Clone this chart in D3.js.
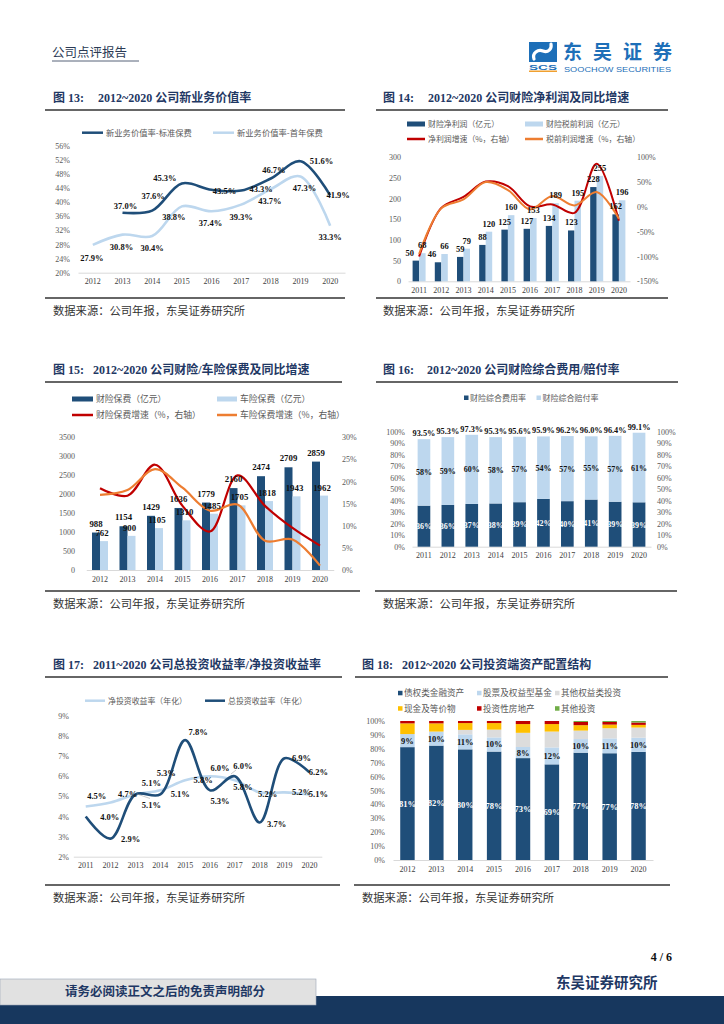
<!DOCTYPE html>
<html>
<head>
<meta charset="utf-8">
<script src="https://cdn.jsdelivr.net/npm/d3@7"></script>
<style>
  body { margin: 0; background: #fff; }
  svg { display: block; }
</style>
</head>
<body>
<svg id="page" width="724" height="1024"></svg>
<script>
// //////// DATA

// 图13 新业务价值率
const years13 = ["2012", "2013", "2014", "2015", "2016", "2017", "2018", "2019", "2020"];
const nbvStandard = [null, 37.0, 37.6, 45.3, 43.5, 43.3, 46.7, 51.6, 41.9];
const nbvFirstYear = [27.9, 30.8, 30.4, 38.8, 37.4, 39.3, 43.7, 47.3, 33.3];

// 图14 财险净利润 / 税前利润
const years14 = ["2011", "2012", "2013", "2014", "2015", "2016", "2017", "2018", "2019", "2020"];
const netProfit = [50, 46, 59, 88, 125, 127, 134, 123, 228, 162];
const pretaxProfit = [68, 66, 79, 120, 160, 153, 189, 195, 255, 196];
const netProfitGrowth = [-100, -2, 20, 51, 42, 1, 5, -12, 87, -28];
const pretaxGrowth = [-95, -3, 15, 50, 34, -5, 22, 3, 30, -24];

// 图15 财险 / 车险保费
const years15 = ["2012", "2013", "2014", "2015", "2016", "2017", "2018", "2019", "2020"];
const pcPremium = [988, 1154, 1429, 1636, 1779, 2160, 2474, 2709, 2859];
const autoPremium = [762, 900, 1105, 1310, 1485, 1705, 1818, 1943, 1962];
const pcPremiumGrowth = [18.5, 16.8, 23.8, 14.5, 8.7, 21.4, 14.5, 9.5, 5.5];
const autoPremiumGrowth = [17.0, 18.1, 22.8, 18.6, 13.4, 14.8, 6.6, 6.9, 1.0];

// 图16 综合费用率 / 赔付率
const years16 = ["2011", "2012", "2013", "2014", "2015", "2016", "2017", "2018", "2019", "2020"];
const expenseRatio = [35.7, 36.3, 37.2, 37.6, 38.7, 41.6, 39.6, 41.0, 39.1, 38.6];
const lossRatio = [57.8, 59.0, 60.1, 57.7, 56.9, 54.3, 56.6, 55.0, 57.3, 60.5];

// 图17 投资收益率
const years17 = ["2011", "2012", "2013", "2014", "2015", "2016", "2017", "2018", "2019", "2020"];
const netYield = [4.5, 4.7, 5.1, 5.3, 5.8, 6.0, 5.8, 5.2, 5.2, 5.1];
const totalYield = [4.0, 2.9, 5.1, 5.1, 7.8, 5.3, 6.0, 3.7, 6.9, 6.2];

// 图18 投资资产配置
const years18 = ["2012", "2013", "2014", "2015", "2016", "2017", "2018", "2019", "2020"];
const debtAssets = [81.2, 82.3, 79.6, 78.0, 73.3, 68.8, 77.2, 76.8, 77.8];
const equityFunds = [9.4, 10.1, 10.8, 10.2, 8.0, 12.2, 9.8, 10.7, 10.2];
const otherEquity = [0, 0, 3.2, 5.6, 10.2, 11.4, 6.1, 7.3, 7.3];
const cashAssets = [7.7, 5.9, 4.9, 4.7, 6.3, 5.4, 3.9, 2.6, 1.9];
const propertyAssets = [1.7, 1.7, 1.5, 1.5, 2.2, 2.2, 2.3, 1.9, 1.7];
const otherInvest = [0, 0, 0, 0, 0, 0, 0.7, 0.7, 1.1];

// //////// STYLE

const NAVY = "#1f4e79";
const LIGHT = "#bdd7ee";
const RED = "#c00000";
const ORANGE = "#ed7d31";
const GREY = "#dcdcdc";
const YELLOW = "#ffc000";
const GREEN = "#70ad47";
const TITLE_C = "#1f3864";
const TICK_C = "#595959";
const SERIF = "'Liberation Serif','Times New Roman',serif";
const CJK = "'Noto Sans CJK SC','Noto Sans',sans-serif";
const MIXED = "'Liberation Serif','Noto Sans CJK SC',serif";

const svg = d3.select("#page");

// //////// HELPERS

function drawTitle(num, text, x, y, gap, rx1, rx2) {
  svg.append("text").attr("x", x).attr("y", y)
    .attr("font-family", MIXED).attr("font-weight", "bold").attr("font-size", 12)
    .attr("fill", TITLE_C).text(num);
  svg.append("text").attr("x", x + gap).attr("y", y)
    .attr("font-family", MIXED).attr("font-weight", "bold").attr("font-size", 12)
    .attr("fill", TITLE_C).text(text);
  svg.append("line").attr("x1", rx1).attr("x2", rx2)
    .attr("y1", y + 8).attr("y2", y + 8)
    .attr("stroke", "#333").attr("stroke-width", 1.3);
}

function drawSource(x, y, rx1, rx2) {
  svg.append("line").attr("x1", rx1).attr("x2", rx2)
    .attr("y1", y - 13).attr("y2", y - 13)
    .attr("stroke", "#333").attr("stroke-width", 1.3);
  svg.append("text").attr("x", x).attr("y", y + 4)
    .attr("font-family", CJK).attr("font-size", 11.3).attr("fill", "#333")
    .text("数据来源：公司年报，东吴证券研究所");
}

// items: {x, y, type, color, label, w}
function drawLegend(items, fontSize) {
  items.forEach((it) => {
    const w = it.w || 20;
    if (it.type === "bar") {
      svg.append("rect").attr("x", it.x).attr("y", it.y - 2.5)
        .attr("width", w).attr("height", 5).attr("fill", it.color);
    } else if (it.type === "square") {
      svg.append("rect").attr("x", it.x).attr("y", it.y - 2.5)
        .attr("width", 4.5).attr("height", 4.5).attr("fill", it.color);
    } else {
      svg.append("line").attr("x1", it.x).attr("x2", it.x + w)
        .attr("y1", it.y).attr("y2", it.y)
        .attr("stroke", it.color).attr("stroke-width", 2.5);
    }
    const tx = it.type === "square" ? it.x + 6 : it.x + w + 3;
    svg.append("text").attr("x", tx).attr("y", it.y).attr("dy", "0.36em")
      .attr("font-family", CJK).attr("font-size", fontSize || 8.3)
      .attr("fill", TICK_C).text(it.label);
  });
}

function drawYAxis(scale, ticks, fmt, x, side) {
  const axis = (side === "right" ? d3.axisRight(scale) : d3.axisLeft(scale))
    .tickValues(ticks).tickSize(0).tickPadding(3).tickFormat(fmt);
  const g = svg.append("g").attr("transform", `translate(${x},0)`).call(axis);
  g.select(".domain").remove();
  g.selectAll("text").attr("font-family", SERIF).attr("font-size", 8).attr("fill", TICK_C);
}

function drawXAxis(scale, y) {
  const g = svg.append("g").attr("transform", `translate(0,${y})`)
    .call(d3.axisBottom(scale).tickSize(0).tickSizeOuter(0).tickPadding(6));
  g.select(".domain").attr("stroke", "#d9d9d9");
  g.selectAll("text").attr("font-family", SERIF).attr("font-size", 8).attr("fill", "#404040");
}

function dataLabel(x, y, text, color, size) {
  svg.append("text").attr("x", x).attr("y", y)
    .attr("text-anchor", "middle")
    .attr("font-family", SERIF).attr("font-weight", "bold")
    .attr("font-size", size || 8.5).attr("fill", color || "#111")
    .text(text);
}

const pct1 = (v) => v.toFixed(1) + "%";

// //////// HEADER / FOOTER

function renderHeader() {
  svg.append("text").attr("x", 52).attr("y", 57)
    .attr("font-family", CJK).attr("font-size", 12.5).attr("fill", "#2b3a55")
    .text("公司点评报告");
  svg.append("line").attr("x1", 52).attr("x2", 139).attr("y1", 61).attr("y2", 61)
    .attr("stroke", "#2b3a55").attr("stroke-width", 0.8);

  // logo
  const logo = svg.append("g");
  logo.append("rect").attr("x", 529).attr("y", 42).attr("width", 28).attr("height", 20).attr("fill", "#1d6fb8");
  logo.append("path")
    .attr("d", "M534,59 C532,53 538,49 543,51 C548,53 552,49 551,44")
    .attr("fill", "none").attr("stroke", "#fff").attr("stroke-width", 3.2).attr("stroke-linecap", "round");
  logo.append("text").attr("x", 529).attr("y", 69.5)
    .attr("font-family", "'Liberation Sans',sans-serif").attr("font-weight", "bold")
    .attr("font-size", 7).attr("fill", "#1d6fb8")
    .attr("textLength", 28).attr("lengthAdjust", "spacingAndGlyphs").text("SCS");
  logo.append("rect").attr("x", 529).attr("y", 70.5).attr("width", 28).attr("height", 1.5).attr("fill", "#f0a030");
  logo.append("text").attr("x", 563).attr("y", 59)
    .attr("font-family", CJK).attr("font-weight", "bold").attr("font-size", 19)
    .attr("fill", "#1d6fb8").attr("textLength", 109).attr("lengthAdjust", "spacing")
    .text("东吴证券");
  logo.append("text").attr("x", 564).attr("y", 72)
    .attr("font-family", "'Liberation Sans Narrow','Liberation Sans',sans-serif")
    .attr("font-size", 8).attr("fill", "#1d6fb8")
    .attr("textLength", 107).attr("lengthAdjust", "spacingAndGlyphs")
    .text("SOOCHOW SECURITIES");
}

function renderFooter() {
  svg.append("text").attr("x", 672).attr("y", 961).attr("text-anchor", "end")
    .attr("font-family", SERIF).attr("font-weight", "bold").attr("font-size", 12)
    .attr("fill", "#111").text("4 / 6");
  svg.append("rect").attr("x", 0).attr("y", 996).attr("width", 724).attr("height", 28).attr("fill", "#17375e");
  svg.append("rect").attr("x", 0).attr("y", 979).attr("width", 316).attr("height", 26)
    .attr("fill", "#e1e1e1").attr("stroke", "#9aa5b5").attr("stroke-width", 0.6);
  svg.append("text").attr("x", 65).attr("y", 996)
    .attr("font-family", CJK).attr("font-weight", "bold").attr("font-size", 12.5)
    .attr("fill", "#1f3864").text("请务必阅读正文之后的免责声明部分");
  svg.append("text").attr("x", 556).attr("y", 988)
    .attr("font-family", CJK).attr("font-weight", "bold").attr("font-size", 14.5)
    .attr("fill", "#1f3864").text("东吴证券研究所");
}

// //////// CHART 13

function renderChart13() {
  drawTitle("图 13:", "2012~2020 公司新业务价值率", 53, 102, 45, 45, 345);
  drawLegend([
    { x: 82, y: 132.7, type: "line", color: NAVY, label: "新业务价值率-标准保费", w: 21 },
    { x: 213, y: 132.7, type: "line", color: LIGHT, label: "新业务价值率-首年保费", w: 21 },
  ]);

  const x = d3.scaleBand().domain(years13).range([78, 345]);
  const y = d3.scaleLinear().domain([20, 56]).range([272.7, 145.7]);
  drawYAxis(y, d3.range(20, 57, 4), (d) => d + "%", 73);
  drawXAxis(x, 272.7);

  const cx = (i) => x(years13[i]) + x.bandwidth() / 2;
  const line = d3.line()
    .defined((d) => d != null)
    .x((d, i) => cx(i))
    .y((d) => y(d))
    .curve(d3.curveCatmullRom);

  svg.append("path").attr("d", line(nbvFirstYear))
    .attr("fill", "none").attr("stroke", LIGHT).attr("stroke-width", 2.6);
  svg.append("path").attr("d", line(nbvStandard))
    .attr("fill", "none").attr("stroke", NAVY).attr("stroke-width", 2.6);

  const stdOff = [null, [3, -7], [1, -15], [-17, -5], [13, 1], [20, -2], [3, -9], [21, 0], [8, 0]];
  const firstOff = [[-1, 13], [-1, 12], [0, 12], [-8, 11], [-1, 12], [0, 12], [-1, 11.5], [4, 12], [0, 11.5]];

  nbvStandard.forEach((v, i) => {
    if (v == null) return;
    dataLabel(cx(i) + stdOff[i][0], y(v) + stdOff[i][1] + 3, pct1(v));
  });
  nbvFirstYear.forEach((v, i) => {
    dataLabel(cx(i) + firstOff[i][0], y(v) + firstOff[i][1] + 3, pct1(v));
  });

  drawSource(53, 311, 45, 345);
}

// //////// CHART 14

function renderChart14() {
  drawTitle("图 14:", "2012~2020 公司财险净利润及同比增速", 383, 102, 45, 376, 668);
  drawLegend([
    { x: 407, y: 124, type: "bar", color: NAVY, label: "财险净利润（亿元）", w: 18 },
    { x: 525, y: 124, type: "bar", color: LIGHT, label: "财险税前利润（亿元）", w: 18 },
    { x: 407, y: 139, type: "line", color: RED, label: "净利润增速（%，右轴）", w: 18 },
    { x: 525, y: 139, type: "line", color: ORANGE, label: "税前利润增速（%，右轴）", w: 18 },
  ], 7.9);

  const x = d3.scaleBand().domain(years14).range([408, 630]);
  const yL = d3.scaleLinear().domain([0, 300]).range([281.3, 157.3]);
  const yR = d3.scaleLinear().domain([-150, 100]).range([281.3, 157.3]);
  drawYAxis(yL, d3.range(0, 301, 50), (d) => d, 404);
  drawYAxis(yR, d3.range(-150, 101, 50), (d) => d + "%", 634, "right");
  drawXAxis(x, 281.3);

  const w = 6.5;
  const cx = (i) => x(years14[i]) + x.bandwidth() / 2;

  svg.append("g").selectAll("rect").data(netProfit).join("rect")
    .attr("x", (d, i) => cx(i) - w).attr("width", w)
    .attr("y", (d) => yL(d)).attr("height", (d) => yL(0) - yL(d))
    .attr("fill", NAVY);
  svg.append("g").selectAll("rect").data(pretaxProfit).join("rect")
    .attr("x", (d, i) => cx(i)).attr("width", w)
    .attr("y", (d) => yL(d)).attr("height", (d) => yL(0) - yL(d))
    .attr("fill", LIGHT);

  const line = d3.line().x((d, i) => cx(i)).y((d) => yR(d)).curve(d3.curveCatmullRom);
  svg.append("path").attr("d", line(netProfitGrowth))
    .attr("fill", "none").attr("stroke", RED).attr("stroke-width", 2);
  svg.append("path").attr("d", line(pretaxGrowth))
    .attr("fill", "none").attr("stroke", ORANGE).attr("stroke-width", 2);

  netProfit.forEach((v, i) => dataLabel(cx(i) - w / 2 - (i < 2 ? 6 : 0), yL(v) - 5, v));
  pretaxProfit.forEach((v, i) => dataLabel(cx(i) + w / 2, yL(v) - 5, v));

  drawSource(383, 311, 376, 668);
}

// //////// CHART 15

function renderChart15() {
  drawTitle("图 15:", "2012~2020 公司财险/车险保费及同比增速", 53, 374, 40, 45, 342);
  drawLegend([
    { x: 72, y: 399, type: "bar", color: NAVY, label: "财险保费（亿元）", w: 21 },
    { x: 217, y: 399, type: "bar", color: LIGHT, label: "车险保费（亿元）", w: 20 },
    { x: 72, y: 415, type: "line", color: RED, label: "财险保费增速（%，右轴）", w: 21 },
    { x: 217, y: 415, type: "line", color: ORANGE, label: "车险保费增速（%，右轴）", w: 20 },
  ], 8.8);

  const x = d3.scaleBand().domain(years15).range([86.25, 333.75]);
  const yL = d3.scaleLinear().domain([0, 3500]).range([570, 437.3]);
  const yR = d3.scaleLinear().domain([0, 30]).range([570, 437.3]);
  drawYAxis(yL, d3.range(0, 3501, 500), (d) => d, 78);
  drawYAxis(yR, d3.range(0, 31, 5), (d) => d + "%", 339, "right");
  drawXAxis(x, 570);

  const w = 8;
  const cx = (i) => x(years15[i]) + x.bandwidth() / 2;

  svg.append("g").selectAll("rect").data(pcPremium).join("rect")
    .attr("x", (d, i) => cx(i) - w).attr("width", w)
    .attr("y", (d) => yL(d)).attr("height", (d) => yL(0) - yL(d))
    .attr("fill", NAVY);
  svg.append("g").selectAll("rect").data(autoPremium).join("rect")
    .attr("x", (d, i) => cx(i)).attr("width", w)
    .attr("y", (d) => yL(d)).attr("height", (d) => yL(0) - yL(d))
    .attr("fill", LIGHT);

  const line = d3.line().x((d, i) => cx(i)).y((d) => yR(d)).curve(d3.curveCatmullRom);
  svg.append("path").attr("d", line(pcPremiumGrowth))
    .attr("fill", "none").attr("stroke", RED).attr("stroke-width", 2.2);
  svg.append("path").attr("d", line(autoPremiumGrowth))
    .attr("fill", "none").attr("stroke", ORANGE).attr("stroke-width", 2.2);

  pcPremium.forEach((v, i) => dataLabel(cx(i) - w / 2, yL(v) - 6, v, "#111", 8.8));
  autoPremium.forEach((v, i) => dataLabel(cx(i) + w / 2 - 2, yL(v) - 5, v, "#111", 8.8));

  drawSource(53, 604, 45, 360);
}

// //////// CHART 16

function renderChart16() {
  drawTitle("图 16:", "2012~2020 公司财险综合费用/赔付率", 383, 374, 44, 376, 678);
  drawLegend([
    { x: 464, y: 398, type: "square", color: NAVY, label: "财险综合费用率" },
    { x: 536.5, y: 398, type: "square", color: LIGHT, label: "财险综合赔付率" },
  ], 8);

  const x = d3.scaleBand().domain(years16).range([412, 651]).paddingInner(0.47).paddingOuter(0.235);
  const y = d3.scaleLinear().domain([0, 100]).range([546.7, 431.7]);
  drawYAxis(y, d3.range(0, 101, 10), (d) => d + "%", 408);
  drawYAxis(y, d3.range(0, 101, 10), (d) => d + "%", 654, "right");
  drawXAxis(x, 546.7);

  const rows = years16.map((yr, i) => ({ year: yr, expense: expenseRatio[i], loss: lossRatio[i] }));
  const series = d3.stack().keys(["expense", "loss"])(rows);
  const colors = { expense: NAVY, loss: LIGHT };

  svg.append("g").selectAll("g").data(series).join("g")
    .attr("fill", (s) => colors[s.key])
    .selectAll("rect").data((s) => s).join("rect")
    .attr("x", (d) => x(d.data.year)).attr("width", x.bandwidth())
    .attr("y", (d) => y(d[1])).attr("height", (d) => y(d[0]) - y(d[1]));

  const cx = (yr) => x(yr) + x.bandwidth() / 2;
  series[0].forEach((d) => dataLabel(cx(d.data.year), y((d[0] + d[1]) / 2) + 3, Math.round(d.data.expense) + "%", "#fff", 8));
  series[1].forEach((d) => dataLabel(cx(d.data.year), y((d[0] + d[1]) / 2) + 3, Math.round(d.data.loss) + "%", "#111", 8));
  series[1].forEach((d) => dataLabel(cx(d.data.year), y(d[1]) - 3, pct1(d[1]), "#111", 8.3));

  drawSource(383, 604, 375, 677);
}

// //////// CHART 17

function renderChart17() {
  drawTitle("图 17:", "2011~2020 公司总投资收益率/净投资收益率", 53, 669, 40, 45, 342);
  drawLegend([
    { x: 85, y: 700.7, type: "line", color: LIGHT, label: "净投资收益率（年化）", w: 20 },
    { x: 205, y: 700.7, type: "line", color: NAVY, label: "总投资收益率（年化）", w: 20 },
  ], 7.9);

  const x = d3.scaleBand().domain(years17).range([73.3, 321.8]);
  const y = d3.scaleLinear().domain([2, 9]).range([856.7, 716]);
  drawYAxis(y, d3.range(2, 10, 1), (d) => d + "%", 72);
  drawXAxis(x, 856.7);

  const cx = (i) => x(years17[i]) + x.bandwidth() / 2;
  const line = d3.line().x((d, i) => cx(i)).y((d) => y(d)).curve(d3.curveCatmullRom);

  svg.append("path").attr("d", line(netYield))
    .attr("fill", "none").attr("stroke", LIGHT).attr("stroke-width", 2.6);
  svg.append("path").attr("d", line(totalYield))
    .attr("fill", "none").attr("stroke", NAVY).attr("stroke-width", 2.6);

  // leader lines of moved labels
  svg.append("line").attr("x1", 137).attr("y1", 794).attr("x2", 150).attr("y2", 798.5)
    .attr("stroke", "#a6a6a6").attr("stroke-width", 0.6);
  svg.append("line").attr("x1", 236).attr("y1", 770).attr("x2", 231).attr("y2", 774)
    .attr("stroke", "#a6a6a6").attr("stroke-width", 0.6);

  const netOff = [[11, -10], [17, -8], [16, -11], [6, -17], [18, 0], [10, -8], [8, 7], [8, 2], [17, 0], [9, 0]];
  const totalOff = [[24, 0], [20, 0], [16, 11], [20, 0], [13, -8], [10, 11], [8, -10], [17, 1], [17, 0], [9, 0]];

  netYield.forEach((v, i) => dataLabel(cx(i) + netOff[i][0], y(v) + netOff[i][1] + 3, pct1(v)));
  totalYield.forEach((v, i) => dataLabel(cx(i) + totalOff[i][0], y(v) + totalOff[i][1] + 3, pct1(v)));

  drawSource(53, 898, 45, 340);
}

// //////// CHART 18

function renderChart18() {
  drawTitle("图 18:", "2012~2020 公司投资端资产配置结构", 362, 669, 40, 355, 668);
  const row1 = 693.3, row2 = 708.7;
  drawLegend([
    { x: 398, y: row1, type: "square", color: NAVY, label: "债权类金融资产" },
    { x: 477, y: row1, type: "square", color: LIGHT, label: "股票及权益型基金" },
    { x: 555, y: row1, type: "square", color: GREY, label: "其他权益类投资" },
    { x: 398, y: row2, type: "square", color: YELLOW, label: "现金及等价物" },
    { x: 477, y: row2, type: "square", color: RED, label: "投资性房地产" },
    { x: 555, y: row2, type: "square", color: GREEN, label: "其他投资" },
  ], 8.6);

  const x = d3.scaleBand().domain(years18).range([393, 653]).paddingInner(0.5).paddingOuter(0.25);
  const y = d3.scaleLinear().domain([0, 100]).range([860, 721]);
  drawYAxis(y, d3.range(0, 101, 10), (d) => d + "%", 388);
  drawXAxis(x, 860);

  const keys = ["debt", "equity", "otherEq", "cash", "property", "other"];
  const colors = [NAVY, LIGHT, GREY, YELLOW, RED, GREEN];
  const rows = years18.map((yr, i) => ({
    year: yr,
    debt: debtAssets[i],
    equity: equityFunds[i],
    otherEq: otherEquity[i],
    cash: cashAssets[i],
    property: propertyAssets[i],
    other: otherInvest[i],
  }));
  const series = d3.stack().keys(keys)(rows);

  svg.append("g").selectAll("g").data(series).join("g")
    .attr("fill", (s, i) => colors[i])
    .selectAll("rect").data((s) => s).join("rect")
    .attr("x", (d) => x(d.data.year)).attr("width", x.bandwidth())
    .attr("y", (d) => y(d[1])).attr("height", (d) => y(d[0]) - y(d[1]));

  const cx = (yr) => x(yr) + x.bandwidth() / 2;
  series[0].forEach((d) => dataLabel(cx(d.data.year), y((d[0] + d[1]) / 2) + 3, Math.round(d.data.debt) + "%", "#fff", 8.5));
  series[1].forEach((d) => dataLabel(cx(d.data.year), y((d[0] + d[1]) / 2) + 3, Math.round(d.data.equity) + "%", "#111", 8.5));

  drawSource(362, 898, 354, 670);
}

renderHeader();
renderChart13();
renderChart14();
renderChart15();
renderChart16();
renderChart17();
renderChart18();
renderFooter();
</script>
</body>
</html>
